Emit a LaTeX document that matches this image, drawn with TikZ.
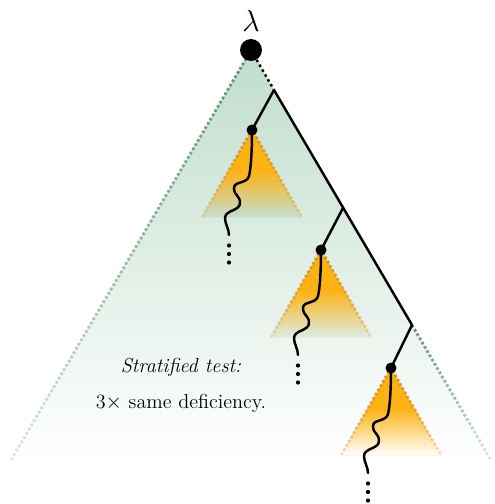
\documentclass[tikz,border=0pt]{standalone}
\usetikzlibrary{positioning,calc,fadings}
\definecolor{TreeGreen}{RGB}{192,221,204}
\definecolor{EdgeGreen}{RGB}{90,148,112}
\definecolor{SubOrange}{RGB}{253,178,20}
\definecolor{EdgeOrange}{RGB}{214,142,36}
\tikzfading[name=rim fade,top color=transparent!0,middle color=transparent!10,
  bottom color=transparent!80]
\tikzset{
  root/.style={circle,fill=black,inner sep=0pt,minimum size=0.44cm},
  kid/.style={circle,fill=black,inner sep=0pt,minimum size=0.22cm},
  spine/.style={line width=1.4pt,black},
  wiggle/.style={line width=1.4pt,black,line cap=round},
  rim/.style={dash pattern=on 1.5pt off 1.3pt,line width=1.6pt,EdgeGreen,
    path fading=rim fade},
  subtree/.style={fill=SubOrange},
  subrim/.style={dash pattern=on 1.5pt off 1.3pt,line width=1.6pt,EdgeOrange,
    path fading=rim fade},
  caption/.style={font=\fontsize{11.5}{14}\selectfont,align=center}
}

\begin{document}
\begin{tikzpicture}[x=0.02cm,y=-0.02cm]
  \useasboundingbox (0,0) rectangle (494,504);

  \coordinate (apex) at (251,50);
  \coordinate (left) at (11,460);
  \coordinate (right) at (491,460);
  \coordinate (b1) at (274,90);
  \coordinate (b2) at (343,208);
  \coordinate (b3) at (412,325);

  % the whole population
  \shade[top color=TreeGreen,middle color=TreeGreen!92!white,bottom color=white]
    (apex) -- (left) -- (right) -- cycle;
  \draw[rim] (apex) -- (left);
  \draw[rim] (b3) -- (right);

  % sampled subtrees
  \foreach \cx/\cy/\bg [count=\i] in {252/130/TreeGreen!95!white,
      321/250/TreeGreen!56!white,391/368/white} {
    \coordinate (c\i) at (\cx,\cy);
    \fill[subtree] (c\i) -- ++(-50,87) -- ++(100,0) -- cycle;
    \shade[top color=SubOrange,middle color=SubOrange!55!\bg,bottom color=\bg]
      ($(c\i)+(-23,40)$) -- ++(-27,47) -- ++(100,0) -- ++(-27,-47) -- cycle;
    \draw[subrim] ($(c\i)+(-50,87)$) -- (c\i) -- ++(50,87);
  }

  \node[caption,font=\fontsize{11.5}{14}\selectfont\itshape] (title) at (181,367) {Stratified test:};
  \node[caption] (note) at (181,403) {3$\times$ same deficiency.};

  % spine
  \node[root] (root) at (apex) {};
  \node[font=\fontsize{19}{21}\selectfont,above=0.01cm of root] (lam) {$\lambda$};
  \draw[spine,dash pattern=on 1.4pt off 1.8pt] (root) -- (b1);
  \draw[spine] (b1) -- (b3);

  \foreach \i in {1,2,3} {
    \draw[spine] (b\i) -- (c\i);
    \draw[wiggle] (c\i) .. controls +(0,20) and +(2,-8) .. ++(-3,46)
      .. controls +(-2,8) and +(0,-7) .. ++(-15,12)
      .. controls +(0,8) and +(0,-8) .. ++(6,15)
      .. controls +(0,8) and +(0,-8) .. ++(-15,15)
      .. controls +(0,6) and +(0,-6) .. ++(4,17) coordinate (w\i);
    \foreach \k in {1,2,3}
      \fill ($(w\i)+(0,2+8.5*\k)$) circle (2.1);
    \node[kid] (k\i) at (c\i) {};
  }
\end{tikzpicture}
\end{document}
